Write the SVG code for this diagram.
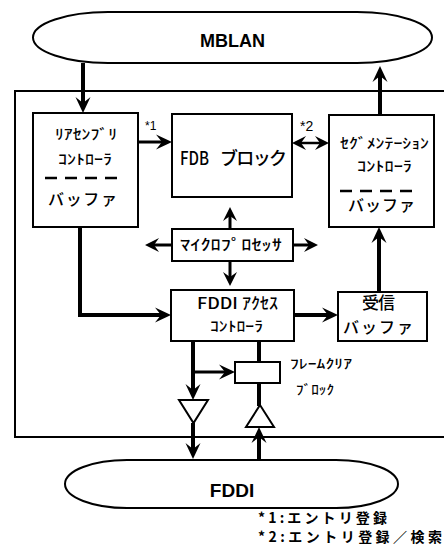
<svg xmlns="http://www.w3.org/2000/svg" width="444" height="558" viewBox="0 0 444 558">
<style>
.bg{fill:#fff}
.box{fill:#fff;stroke:#000;stroke-width:2}
.net{fill:#fff;stroke:#000;stroke-width:2}
.frame{fill:none;stroke:#000;stroke-width:2}
.thick{fill:none;stroke:#000;stroke-width:4}
.mid{fill:none;stroke:#000;stroke-width:3}
.thin{fill:none;stroke:#000;stroke-width:2.5}
.dash{stroke:#000;stroke-width:2.5;stroke-dasharray:12 8}
.jp{font-family:"Noto Sans CJK JP","Liberation Sans",sans-serif;font-weight:500;fill:#000}
.lat{font-family:"Liberation Sans","Noto Sans CJK JP",sans-serif;fill:#000}
.note{font-family:"Noto Sans CJK JP","Liberation Sans",sans-serif;font-weight:700;font-size:14px;fill:#000}
</style>
<defs>
<marker id="ah" viewBox="-17 -8 18 16" refX="-7" refY="0" markerWidth="18" markerHeight="16" markerUnits="userSpaceOnUse" orient="auto">
<path d="M0,0 L-16,-7.5 L-10,0 L-16,7.5 Z" fill="#000"/>
</marker>
<marker id="ahs" viewBox="-17 -8 18 16" refX="-7" refY="0" markerWidth="18" markerHeight="16" markerUnits="userSpaceOnUse" orient="auto-start-reverse">
<path d="M0,0 L-14,-7 L-9,0 L-14,7 Z" fill="#000"/>
</marker>
</defs>
<rect class="bg" x="0" y="0" width="444" height="558"/>

<g id="frame">
<path class="frame" d="M444,91 L15,91 L15,437 L444,437"/>
</g>

<g id="connectors">
<line class="thick" x1="83" y1="63" x2="83" y2="106" marker-end="url(#ah)"/>
<line class="thick" x1="380" y1="115" x2="380" y2="73" marker-end="url(#ah)"/>
<line class="mid" x1="138" y1="142" x2="165" y2="142" marker-end="url(#ah)"/>
<line class="thin" x1="299" y1="143" x2="322" y2="143" marker-start="url(#ahs)" marker-end="url(#ahs)"/>
<line class="mid" x1="230" y1="229" x2="230" y2="214" marker-end="url(#ahs)"/>
<line class="mid" x1="230" y1="261" x2="230" y2="279" marker-end="url(#ahs)"/>
<line class="mid" x1="172" y1="245" x2="152" y2="245" marker-end="url(#ahs)"/>
<line class="mid" x1="293" y1="245" x2="311" y2="245" marker-end="url(#ahs)"/>
<polyline class="thick" points="80,227 80,315 164,315" marker-end="url(#ah)"/>
<line class="thick" x1="294" y1="315" x2="331" y2="315" marker-end="url(#ah)"/>
<line class="thick" x1="379" y1="292" x2="379" y2="234" marker-end="url(#ah)"/>
<line class="thick" x1="193" y1="341" x2="193" y2="393" marker-end="url(#ah)"/>
<line class="mid" x1="193" y1="372" x2="228" y2="372" marker-end="url(#ah)"/>
<line class="thick" x1="193" y1="423" x2="193" y2="452" marker-end="url(#ah)"/>
<line class="thick" x1="259" y1="341" x2="259" y2="362"/>
<line class="thick" x1="259" y1="383" x2="259" y2="406"/>
<line class="thick" x1="259" y1="460" x2="259" y2="434" marker-end="url(#ah)"/>
</g>

<g id="mblan">
<rect class="net" x="33" y="12" width="399" height="51" rx="75" ry="25.5"/>
<text class="lat" x="232.5" y="47" font-size="18" font-weight="700" text-anchor="middle">MBLAN</text>
</g>

<g id="fddi">
<rect class="net" x="65" y="460" width="333" height="48" rx="62" ry="24"/>
<text class="lat" x="232" y="497" font-size="19" font-weight="700" text-anchor="middle">FDDI</text>
</g>

<g id="reassembly">
<rect class="box" x="33" y="113" width="105" height="114"/>
<text class="jp" x="55" y="138.5" font-size="14" textLength="62" lengthAdjust="spacingAndGlyphs">ﾘｱｾﾝﾌﾞﾘ</text>
<text class="jp" x="58" y="164" font-size="14" textLength="54" lengthAdjust="spacingAndGlyphs">ｺﾝﾄﾛｰﾗ</text>
<line class="dash" x1="45" y1="178" x2="125" y2="178"/>
<text class="jp" x="48" y="205" font-size="16" textLength="69" lengthAdjust="spacing">バッファ</text>
<text class="lat" x="145" y="130" font-size="12">*1</text>
</g>

<g id="fdb">
<rect class="box" x="172" y="114" width="120" height="83"/>
<text class="jp" x="180" y="165" font-size="18" font-weight="400"><tspan textLength="29" lengthAdjust="spacingAndGlyphs">FDB</tspan> <tspan x="220" textLength="67" lengthAdjust="spacing">ブロック</tspan></text>
</g>

<g id="segmentation">
<rect class="box" x="329" y="115" width="105" height="112"/>
<text class="jp" x="340" y="148" font-size="14" textLength="89" lengthAdjust="spacingAndGlyphs">ｾｸﾞﾒﾝﾃｰｼｮﾝ</text>
<text class="jp" x="357" y="170.5" font-size="14" textLength="55" lengthAdjust="spacingAndGlyphs">ｺﾝﾄﾛｰﾗ</text>
<line class="dash" x1="340" y1="191" x2="420" y2="191"/>
<text class="jp" x="348" y="211" font-size="16" textLength="67" lengthAdjust="spacing">バッファ</text>
<text class="lat" x="300" y="131" font-size="14">*2</text>
</g>

<g id="microprocessor">
<rect class="box" x="172" y="229" width="121" height="32"/>
<text class="jp" x="180" y="250" font-size="15" textLength="102" lengthAdjust="spacingAndGlyphs">ﾏｲｸﾛﾌﾟﾛｾｯｻ</text>
</g>

<g id="fddi-access">
<rect class="box" x="171" y="290" width="123" height="51"/>
<text class="jp" x="197" y="309" font-size="16" textLength="81" lengthAdjust="spacingAndGlyphs">FDDI ｱｸｾｽ</text>
<text class="jp" x="210" y="331" font-size="14" textLength="53" lengthAdjust="spacingAndGlyphs">ｺﾝﾄﾛｰﾗ</text>
</g>

<g id="receive-buffer">
<rect class="box" x="338" y="292" width="89" height="49"/>
<text class="jp" x="362" y="309" font-size="17" textLength="33" lengthAdjust="spacing">受信</text>
<text class="jp" x="343" y="333" font-size="16" textLength="70" lengthAdjust="spacing">バッファ</text>
</g>

<g id="frame-clear">
<rect class="box" x="235" y="362" width="45" height="21"/>
<text class="jp" x="290" y="368" font-size="13" textLength="62" lengthAdjust="spacingAndGlyphs">ﾌﾚｰﾑｸﾘｱ</text>
<text class="jp" x="296" y="394" font-size="13" textLength="38" lengthAdjust="spacingAndGlyphs">ﾌﾞﾛｯｸ</text>
</g>

<g id="tx-driver">
<polygon class="box" points="179,400 208,400 193.5,423"/>
</g>

<g id="rx-driver">
<polygon class="box" points="246,427 274,427 260,405"/>
</g>

<g id="notes">
<text class="note" x="258" y="523" textLength="129" lengthAdjust="spacing">*1:エントリ登録</text>
<text class="note" x="258" y="542" textLength="184" lengthAdjust="spacing">*2:エントリ登録／検索</text>
</g>
</svg>
